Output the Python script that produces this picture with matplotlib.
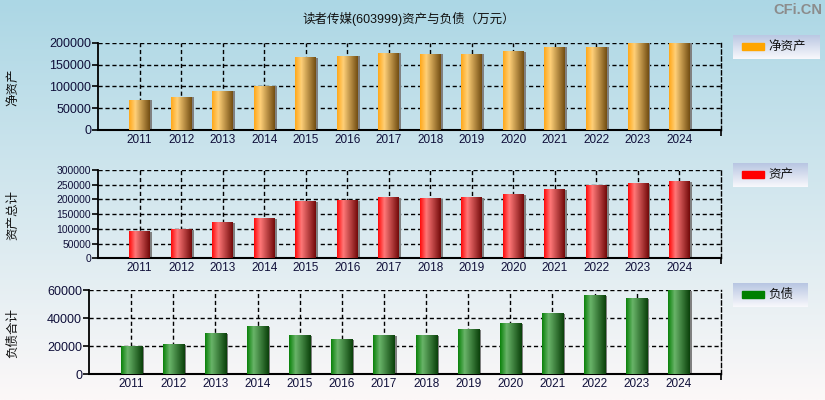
import numpy as np
import matplotlib
matplotlib.use('Agg')
import matplotlib.pyplot as plt
from matplotlib.colors import LinearSegmentedColormap
from matplotlib.patches import Rectangle

plt.rcParams['font.family'] = ['Liberation Sans', 'Noto Sans CJK SC']

years = ['2011', '2012', '2013', '2014', '2015', '2016', '2017',
         '2018', '2019', '2020', '2021', '2022', '2023', '2024']
net_assets = [68700, 75600, 89300, 100800, 165000, 169500, 176400,
              174100, 174000, 178700, 190100, 190000, 199300, 199000]
total_assets = [90400, 97200, 120000, 133500, 191300, 194700, 204900,
                201500, 205000, 215000, 232000, 246700, 252400, 259200]
total_liab = [19700, 20900, 29000, 33800, 27600, 24500, 27600,
              27400, 31600, 35900, 43300, 55900, 53800, 59700]

title = '读者传媒(603999)资产与负债（万元）'


def grad_cmap(name, c0, c1, c2):
    return LinearSegmentedColormap.from_list(
        name, [(0, np.array(c0) / 255), (0.3, np.array(c1) / 255), (1, np.array(c2) / 255)])


panels = [
    dict(vals=net_assets, ylab='净资产', leg='净资产', color='#ffa500',
         cmap=grad_cmap('o', (255, 168, 25), (255, 208, 120), (115, 78, 18)),
         ylim=200000, step=50000, ysize=9,
         rect=[98 / 825, 1 - 130 / 400, 623 / 825, 87.3 / 400],
         legrect=[733 / 825, 1 - 59 / 400, 87 / 825, 24 / 400], ylab_y=87),
    dict(vals=total_assets, ylab='资产总计', leg='资产', color='#ff0000',
         cmap=grad_cmap('r', (255, 10, 10), (255, 120, 120), (115, 10, 10)),
         ylim=300000, step=50000, ysize=7.5,
         rect=[98 / 825, 1 - 258.3 / 400, 623 / 825, 88.3 / 400],
         legrect=[733 / 825, 1 - 187 / 400, 75 / 825, 24 / 400], ylab_y=215),
    dict(vals=total_liab, ylab='负债合计', leg='负债', color='#008000',
         cmap=grad_cmap('g', (10, 130, 10), (105, 180, 105), (10, 65, 10)),
         ylim=60000, step=20000, ysize=9,
         rect=[89 / 825, 1 - 374.3 / 400, 632 / 825, 84 / 400],
         legrect=[733 / 825, 1 - 307 / 400, 75 / 825, 24 / 400], ylab_y=333),
]

fig = plt.figure(figsize=(8.25, 4), dpi=100)

# background gradient
bg = fig.add_axes([0, 0, 1, 1], zorder=-10)
top = np.array([172, 215, 229]) / 255
bot = np.array([252, 248, 248]) / 255
t = np.linspace(0, 1, 256)[:, None]
bg.imshow((top * (1 - t) + bot * t)[:, None, :].repeat(2, axis=1), aspect='auto',
          extent=[0, 1, 0, 1])
bg.axis('off')

fig.text(409 / 825, 1 - 18.5 / 400, title, ha='center', va='center', fontsize=9, color='#111111')
fig.text(822 / 825, 1 - 10 / 400, 'CFi.CN', ha='right', va='center', fontsize=10.5,
         fontweight='bold', color='#8c8c8c')

x = np.arange(len(years))
w = 0.5

for p in panels:
    ax = fig.add_axes(p['rect'])
    ax.patch.set_alpha(0)
    # shadow
    ax.bar(x + 0.05, p['vals'], w, color='#808080', zorder=2)
    bars = ax.bar(x, p['vals'], w, color=p['color'], zorder=3)
    g = np.linspace(0, 1, 64)[None, :]
    for b in bars:
        ax.imshow(g, extent=[b.get_x(), b.get_x() + b.get_width(), 0, b.get_height()],
                  aspect='auto', cmap=p['cmap'], zorder=4)
    ax.set_xlim(-1, 14)
    ax.set_ylim(0, p['ylim'])
    ax.set_xticks(x)
    ax.set_xticklabels(years, fontsize=8.5, color='#10103a')
    ax.set_xticks([14], minor=True)
    ax.tick_params(axis='x', which='major', length=0, pad=3)
    ax.tick_params(axis='x', which='minor', length=4, width=1.2, direction='out')
    ax.set_yticks(np.arange(0, p['ylim'] + 1, p['step']))
    ax.tick_params(axis='y', labelsize=p['ysize'], labelcolor='#10103a', length=4, width=1.2, pad=1)
    ax.grid(True, color='black', linestyle=(0, (3, 2)), linewidth=1.0, zorder=1)
    ax.set_axisbelow(True)
    ax.spines['top'].set_visible(False)
    ax.spines['right'].set_linestyle((0, (3, 2)))
    ax.spines['right'].set_linewidth(1.0)
    ax.spines['left'].set_linewidth(1.3)
    ax.spines['bottom'].set_linewidth(1.5)
    fig.text(13 / 825, 1 - p['ylab_y'] / 400, p['ylab'], rotation=90, ha='center', va='center',
             fontsize=9, color='#111111')

    # legend box
    lax = fig.add_axes(p['legrect'])
    lt = np.linspace(0, 1, 64)[:, None]
    ltop = np.array([184, 198, 226]) / 255
    lbot = np.array([248, 248, 252]) / 255
    lax.imshow((ltop * (1 - lt) + lbot * lt)[:, None, :].repeat(2, axis=1), aspect='auto',
               extent=[0, 1, 0, 1])
    lax.set_xlim(0, 1)
    lax.set_ylim(0, 1)
    lax.axis('off')
    pw = 22 / (p['legrect'][2] * 825)
    px = 9 / (p['legrect'][2] * 825)
    lax.add_patch(Rectangle((px, 0.36), pw, 0.3, color=p['color'], zorder=5))
    lax.text(px + pw + 4 / (p['legrect'][2] * 825), 0.5, p['leg'], ha='left', va='center',
             fontsize=9, color='#111111')

fig.savefig('out.png', dpi=100)
